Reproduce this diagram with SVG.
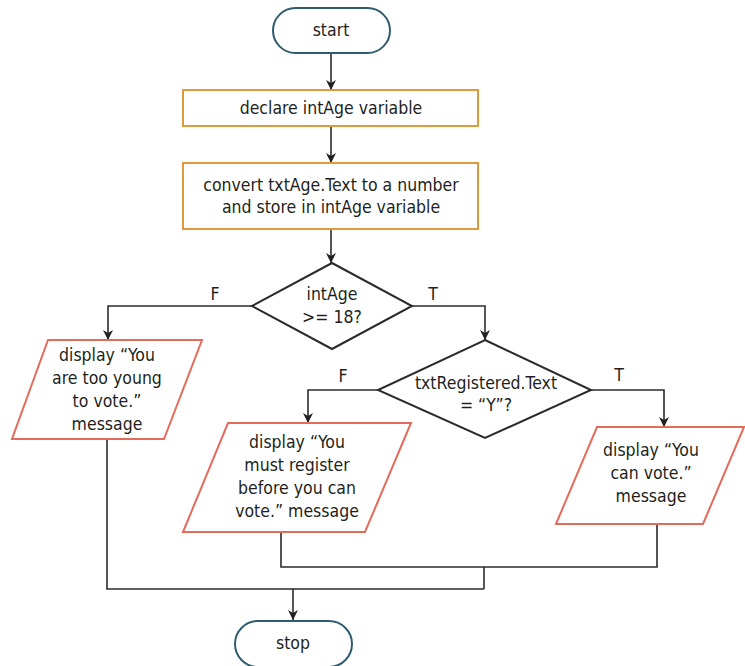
<svg xmlns="http://www.w3.org/2000/svg" width="745" height="666" viewBox="0 0 745 666">
<defs>
<marker id="arr" viewBox="0 0 10 10" refX="10" refY="5" markerWidth="12" markerHeight="10" markerUnits="userSpaceOnUse" orient="auto">
<path d="M0,0 L10,5 L0,10 L3,5 Z" fill="#231f20"/>
</marker>
<style>
text{font-family:"Liberation Sans Narrow","DejaVu Sans Condensed","Liberation Sans",sans-serif;font-size:17.5px;fill:#231f20;text-anchor:middle}
.term{fill:#fff;stroke:#2f5d6e;stroke-width:2}
.proc{fill:#fff;stroke:#e09a3c;stroke-width:2}
.io{fill:#fff;stroke:#e46b5a;stroke-width:2}
.dec{fill:#fff;stroke:#2b2b2b;stroke-width:2}
.ln{fill:none;stroke:#2b2b2b;stroke-width:1.6}
</style>
</defs>
<rect width="745" height="666" fill="#fff"/>
<g id="connectors">
<path class="ln" d="M331,53 V90" marker-end="url(#arr)"/>
<path class="ln" d="M331,126 V163" marker-end="url(#arr)"/>
<path class="ln" d="M331,229 V263" marker-end="url(#arr)"/>
<path class="ln" d="M252,306 H108 V340" marker-end="url(#arr)"/>
<path class="ln" d="M412,306 H485 V340" marker-end="url(#arr)"/>
<path class="ln" d="M378,390 H308 V423" marker-end="url(#arr)"/>
<path class="ln" d="M591,390 H664 V427" marker-end="url(#arr)"/>
<path class="ln" d="M281,532 V567 H657 V524"/>
<path class="ln" d="M484,567 V589"/>
<path class="ln" d="M107,439 V589 H484"/>
<path class="ln" d="M293,589 V620" marker-end="url(#arr)"/>
<text x="215" y="300">F</text>
<text x="433" y="300">T</text>
<text x="343" y="382">F</text>
<text x="619" y="381">T</text>
</g>
<g id="start">
<rect class="term" x="273" y="8" width="117" height="45" rx="22.5"/>
<text x="331" y="36">start</text>
</g>
<g id="declare">
<rect class="proc" x="183" y="90" width="295" height="36"/>
<text x="331" y="114">declare intAge variable</text>
</g>
<g id="convert">
<rect class="proc" x="183" y="163" width="295" height="66"/>
<text x="331" y="191">convert txtAge.Text to a number</text>
<text x="331" y="213">and store in intAge variable</text>
</g>
<g id="decision1">
<path class="dec" d="M332,263 L412,306 L332,349 L252,306 Z"/>
<text x="332" y="300">intAge</text>
<text x="332" y="323">&gt;= 18?</text>
</g>
<g id="tooYoung">
<path class="io" d="M48,340 H202 L164,439 H12 Z"/>
<text x="107" y="361">display “You</text>
<text x="107" y="384">are too young</text>
<text x="107" y="407">to vote.”</text>
<text x="107" y="430">message</text>
</g>
<g id="decision2">
<path class="dec" d="M485,340 L591,390 L485,438 L378,390 Z"/>
<text x="486" y="389">txtRegistered.Text</text>
<text x="486" y="411">= “Y”?</text>
</g>
<g id="mustRegister">
<path class="io" d="M228,423 H411 L365,532 H183 Z"/>
<text x="297" y="448">display “You</text>
<text x="297" y="471">must register</text>
<text x="297" y="494">before you can</text>
<text x="297" y="517">vote.” message</text>
</g>
<g id="canVote">
<path class="io" d="M597,427 H744 L703,524 H556 Z"/>
<text x="651" y="456">display “You</text>
<text x="651" y="479">can vote.”</text>
<text x="651" y="502">message</text>
</g>
<g id="stop">
<rect class="term" x="235" y="621" width="117" height="46" rx="23"/>
<text x="293" y="649">stop</text>
</g>
</svg>
